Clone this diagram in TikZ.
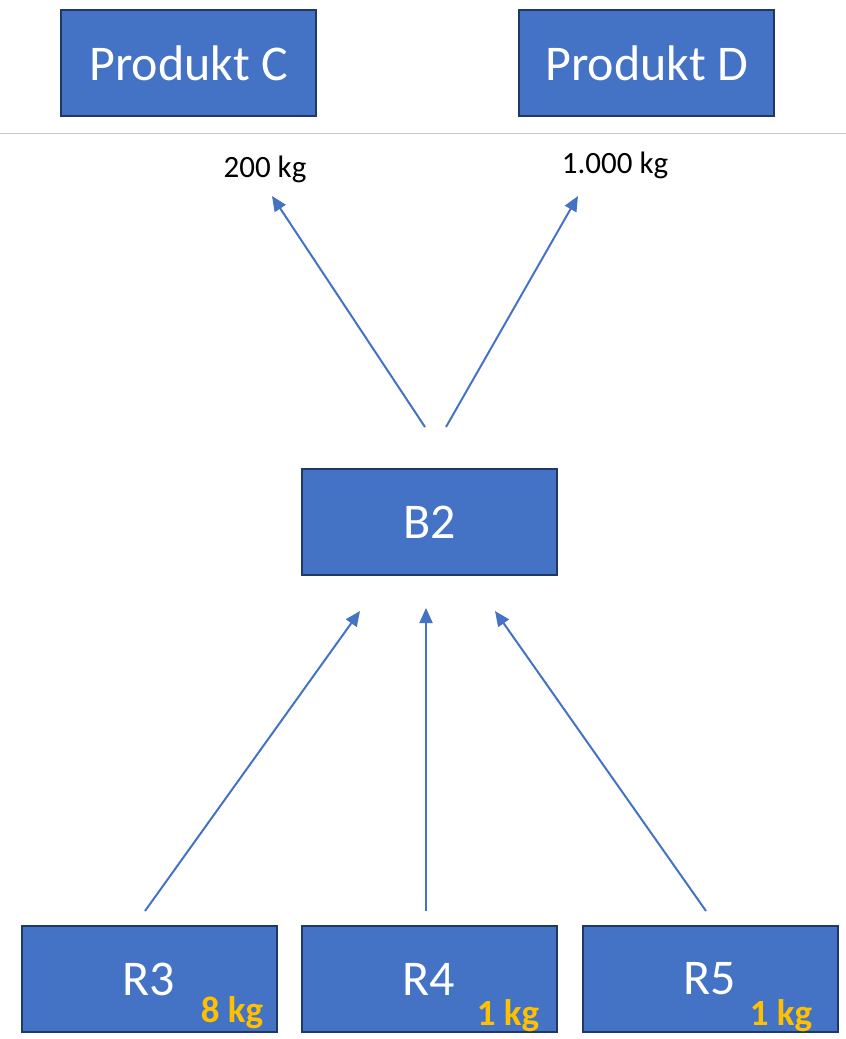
\documentclass[tikz,border=0pt]{standalone}
\usepackage{fontspec}
\setmainfont{Carlito}
\usetikzlibrary{arrows.meta}
\definecolor{boxfill}{HTML}{4472C4}
\definecolor{boxline}{HTML}{1F3864}
\definecolor{arrowc}{HTML}{4472C4}
\definecolor{gold}{HTML}{FFC000}
\definecolor{sepgray}{HTML}{C8C8C8}
\tikzset{
  box/.style={rectangle, draw=boxline, line width=2pt, fill=boxfill, minimum width=255pt, minimum height=106pt, inner sep=0pt, text=white, font=\fontsize{50}{60}\selectfont},
  flow/.style={draw=arrowc, line width=2pt, -{Triangle[length=15pt,width=13pt]}},
  qty/.style={anchor=base, font=\fontsize{31}{36}\selectfont, text=black, inner sep=0pt},
  amt/.style={anchor=base, font=\fontsize{37}{44}\selectfont\bfseries, text=gold, inner sep=0pt}
}
\begin{document}
\begin{tikzpicture}[x=1pt, y=-1pt]
\useasboundingbox (0,0) rectangle (846,1039);
\node[box] (pc) at (188.5,63) {Produkt C};
\node[box] (pd) at (646.5,63) {Produkt D};
\draw[sepgray, line width=1pt] (0,133) coordinate (sepL) -- (846,133) coordinate (sepR);
\node[qty] (qc) at (265,177) {200 kg};
\node[qty] (qd) at (615,173) {1.000 kg};
\node[box] (b2) at (429.5,522) {B2};
\node[box] (r3) at (149,979) {R3};
\node[box] (r4) at (429,979) {R4};
\node[box] (r5) at (710,979) {R5};
\node[amt] (a3) at (232,1022) {8 kg};
\node[amt] (a4) at (508,1025) {1 kg};
\node[amt] (a5) at (781,1025) {1 kg};
\draw[flow] ([xshift=-4.5pt,yshift=41pt]b2.north) -- ([xshift=83.5pt,yshift=-79pt]pc.south);
\draw[flow] ([xshift=16.5pt,yshift=41pt]b2.north) -- ([xshift=-68.5pt,yshift=-79pt]pd.south);
\draw[flow] ([xshift=-4pt,yshift=14pt]r3.north) -- ([xshift=-69.5pt,yshift=-35pt]b2.south);
\draw[flow] ([xshift=-3pt,yshift=14pt]r4.north) -- ([xshift=-3.5pt,yshift=-32pt]b2.south);
\draw[flow] ([xshift=-4pt,yshift=14pt]r5.north) -- ([xshift=65.5pt,yshift=-35pt]b2.south);
\end{tikzpicture}
\end{document}
